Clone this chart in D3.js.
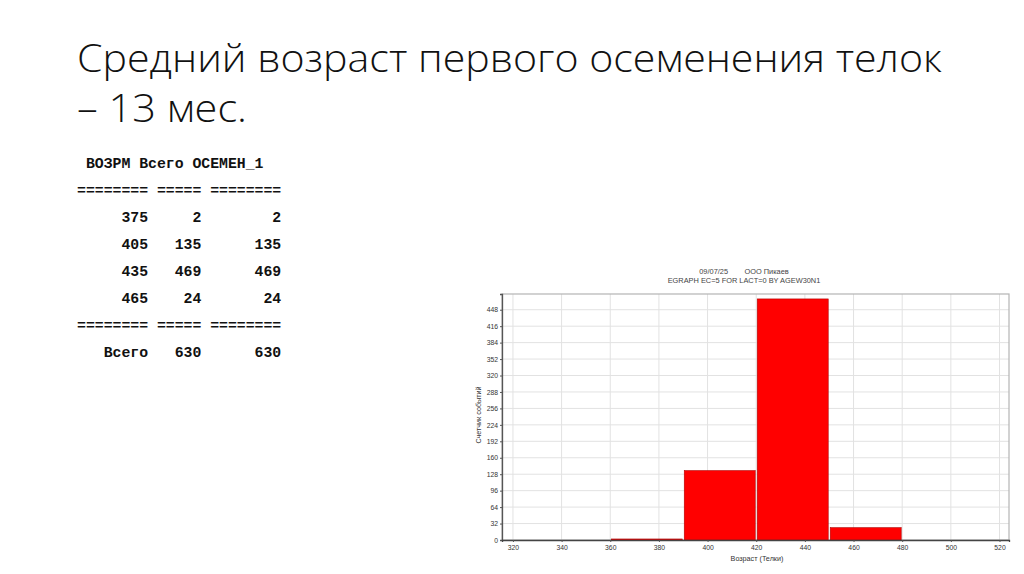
<!DOCTYPE html>
<html>
<head>
<meta charset="utf-8">
<script src="https://cdn.jsdelivr.net/npm/d3@7.9.0/dist/d3.min.js"></script>
<style>
  html, body { margin: 0; padding: 0; background: #fff; }
  svg { display: block; }
</style>
</head>
<body>
<svg id="slide" width="1024" height="574"></svg>
<script>
// values
const titleLines = ['Средний возраст первого осеменения телок', '– 13 мес.'];
const ages = [375, 405, 435, 465];          // ВОЗРМ, bin centres
const totals = [2, 135, 469, 24];           // Всего
const inseminated = [2, 135, 469, 24];      // ОСЕМЕН_1
const binWidth = 30;
const xTicks = [320, 340, 360, 380, 400, 420, 440, 460, 480, 500, 520];
const yTicks = [0, 32, 64, 96, 128, 160, 192, 224, 256, 288, 320, 352, 384, 416, 448];
const chartHeader = ['09/07/25        ООО Пикаев', 'EGRAPH EC=5 FOR LACT=0 BY AGEW30N1'];
const xLabel = 'Возраст (Телки)';
const yLabel = 'Счетчик событий';

const svg = d3.select('#slide');

// slide title, two lines
const titleLen = [865, 170];
svg.append('g')
  .selectAll('text')
  .data(titleLines)
  .join('text')
  .attr('x', 77)
  .attr('y', (d, i) => 72 + i * 50)
  .attr('font-family', '"Open Sans", "Noto Sans", sans-serif')
  .attr('font-weight', 300)
  .attr('font-size', 39)
  .attr('fill', '#111')
  .attr('textLength', (d, i) => titleLen[i])
  .attr('lengthAdjust', 'spacingAndGlyphs')
  .text(d => d);

// text table on the left
const sep = '======== ===== ========';
let rows = [' ВОЗРМ Всего ОСЕМЕН_1', sep];
ages.forEach((a, i) => {
  rows.push(String(a).padStart(8) + String(totals[i]).padStart(6) + String(inseminated[i]).padStart(9));
});
rows.push(sep);
rows.push('Всего'.padStart(8) + String(d3.sum(totals)).padStart(6) + String(d3.sum(inseminated)).padStart(9));

svg.append('g')
  .selectAll('text')
  .data(rows)
  .join('text')
  .attr('x', 77)
  .attr('y', (d, i) => 168 + i * 27)
  .attr('font-family', '"Liberation Mono", "DejaVu Sans Mono", monospace')
  .attr('font-weight', 'bold')
  .attr('font-size', 14.8)
  .attr('fill', '#111')
  .style('white-space', 'pre')
  .text(d => d);

// histogram
const plotL = 502, plotR = 1009, plotT = 294, plotB = 540;
const x = d3.scaleLinear().domain([315.5, 523.9]).range([plotL, plotR]);
const y = d3.scaleLinear().domain([0, 478.6]).range([plotB, plotT]);

const chart = svg.append('g')
  .attr('font-family', '"Liberation Sans", Arial, sans-serif');

// header of the exported graph
chart.selectAll('text.hdr')
  .data(chartHeader)
  .join('text')
  .attr('class', 'hdr')
  .attr('x', 744)
  .attr('y', (d, i) => 274 + i * 8.5)
  .attr('text-anchor', 'middle')
  .attr('font-size', 7.4)
  .attr('fill', '#444')
  .style('white-space', 'pre')
  .text(d => d);

// grid
chart.append('g')
  .selectAll('line')
  .data(xTicks)
  .join('line')
  .attr('x1', d => x(d)).attr('x2', d => x(d))
  .attr('y1', plotT).attr('y2', plotB)
  .attr('stroke', '#e2e2e2').attr('stroke-width', 1);
chart.append('g')
  .selectAll('line')
  .data(yTicks.slice(1))
  .join('line')
  .attr('x1', plotL).attr('x2', plotR)
  .attr('y1', d => y(d)).attr('y2', d => y(d))
  .attr('stroke', '#e2e2e2').attr('stroke-width', 1);

// frame
chart.append('rect')
  .attr('x', plotL).attr('y', plotT)
  .attr('width', plotR - plotL).attr('height', plotB - plotT)
  .attr('fill', 'none').attr('stroke', '#b4b4b4').attr('stroke-width', 1.2);

// bars
chart.append('g')
  .selectAll('rect')
  .data(ages)
  .join('rect')
  .attr('x', d => x(d - binWidth / 2) + 1)
  .attr('width', d => x(d + binWidth / 2) - x(d - binWidth / 2) - 2)
  .attr('y', (d, i) => y(totals[i]))
  .attr('height', (d, i) => y(0) - y(totals[i]))
  .attr('fill', '#ff0000')
  .attr('stroke', '#b00000')
  .attr('stroke-width', 0.6);

// axes
const yAxis = d3.axisLeft(y).tickValues(yTicks).tickSize(2).tickPadding(2);
const gy = chart.append('g').attr('transform', `translate(${plotL},0)`).call(yAxis);
gy.select('.domain').attr('stroke', '#555').attr('stroke-width', 1.3);
gy.selectAll('.tick line').attr('stroke', '#555');
gy.selectAll('.tick text').attr('font-size', 6.8).attr('fill', '#333')
  .attr('font-family', '"Liberation Sans", Arial, sans-serif');

const xAxis = d3.axisBottom(x).tickValues(xTicks).tickSize(2).tickPadding(3);
const gx = chart.append('g').attr('transform', `translate(0,${plotB})`).call(xAxis);
gx.select('.domain').attr('stroke', '#444').attr('stroke-width', 1.3);
gx.selectAll('.tick line').attr('stroke', '#555');
gx.selectAll('.tick text').attr('font-size', 6.8).attr('fill', '#333')
  .attr('font-family', '"Liberation Sans", Arial, sans-serif');

// axis titles
chart.append('text')
  .attr('x', 757).attr('y', 561)
  .attr('text-anchor', 'middle')
  .attr('font-size', 7.2).attr('fill', '#333')
  .text(xLabel);
chart.append('text')
  .attr('transform', 'translate(481,415) rotate(-90)')
  .attr('text-anchor', 'middle')
  .attr('font-size', 7.2).attr('fill', '#333')
  .text(yLabel);
</script>
</body>
</html>
